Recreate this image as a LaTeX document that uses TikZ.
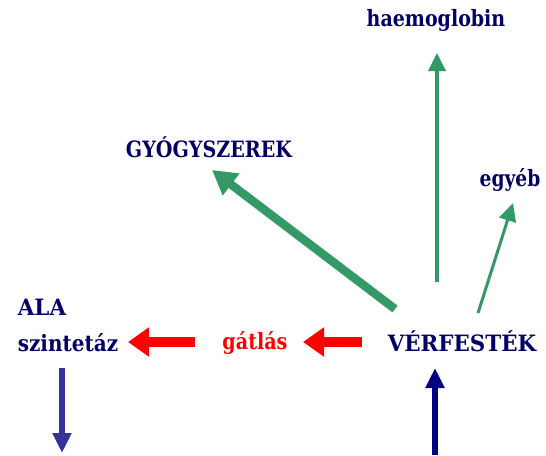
\documentclass[tikz,border=0pt]{standalone}
\usepackage{fontspec}
\usepackage{graphicx}
\setmainfont{DejaVu Serif}
\usetikzlibrary{arrows.meta}
\definecolor{navy}{HTML}{000066}
\definecolor{arrblue}{HTML}{333399}
\definecolor{darkblue}{HTML}{000080}
\definecolor{grn}{HTML}{339966}
\definecolor{rd}{HTML}{FF0000}
\newcommand\hsq[2]{\scalebox{#1}[1]{#2}}
\begin{document}
\begin{tikzpicture}[x=1pt,y=-1pt,
  lbl/.style={font=\bfseries\fontsize{22.5}{26}\selectfont, text=navy, inner sep=0pt},
  redarr/.style={draw=rd, line width=10pt, -{Triangle[length=21pt,width=28pt]}},
  greenthin/.style={draw=grn, line width=3.5pt, -{Triangle[length=18pt,width=17pt]}},
  greenthick/.style={draw=grn, line width=8.5pt, -{Triangle[length=24pt,width=26pt]}},
  bluearr/.style={line width=6pt, -{Triangle[length=20pt,width=18pt]}}]
\useasboundingbox (0,0) rectangle (546,455);
\node[lbl] (haem) at (436,20) {\hsq{0.845}{haemoglobin}};
\node[lbl] (gyogy) at (209,147) {\hsq{0.85}{GYÓGYSZEREK}};
\node[lbl] (egyeb) at (510,180) {\hsq{0.83}{egyéb}};
\node[lbl] (ala) at (42,307) {\hsq{0.95}{ALA}};
\node[lbl] (szint) at (68,343) {\hsq{0.89}{szintetáz}};
\node[lbl, text=rd] (gatlas) at (255,343) {\hsq{0.85}{gátlás}};
\node[lbl] (verf) at (462,341) {\hsq{0.95}{VÉRFESTÉK}};
% connector endpoints
\coordinate (r1s) at (195,342); \coordinate (r1e) at (128,342);
\coordinate (r2s) at (362,342); \coordinate (r2e) at (303,342);
\coordinate (bds) at (62,368);  \coordinate (bde) at (62,453);
\coordinate (bus) at (435,455); \coordinate (bue) at (435,368);
\coordinate (ghs) at (437,282); \coordinate (ghe) at (437,53);
\coordinate (ges) at (478,313); \coordinate (gee) at (513,203);
\coordinate (ggs) at (395,309); \coordinate (gge) at (212,170);
\draw[redarr] (r1s) -- (r1e);
\draw[redarr] (r2s) -- (r2e);
\draw[bluearr, draw=arrblue] (bds) -- (bde);
\draw[bluearr, draw=darkblue] (bus) -- (bue);
\draw[greenthin] (ghs) -- (ghe);
\draw[greenthin, line width=3pt] (ges) -- (gee);
\draw[greenthick] (ggs) -- (gge);
\end{tikzpicture}
\end{document}
